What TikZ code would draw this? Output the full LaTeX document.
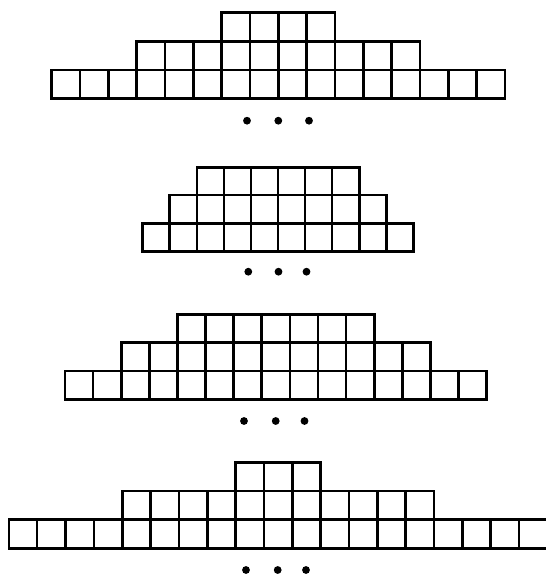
\documentclass[tikz,border=0pt]{standalone}
\newcommand\cellrow[6]{% origin, offset (cells), top, bottom, count, width
  \foreach \i in {1,...,#5}{%
    \draw[cellbox] ({#1+(#2+\i-1)*#6},#3) rectangle ({#1+(#2+\i)*#6},#4);
  }%
}
\newcommand\threedots[4]{% x1, x2, x3, y
  \fill[dotmark] (#1,#4) circle (3.9pt);
  \fill[dotmark] (#2,#4) circle (3.9pt);
  \fill[dotmark] (#3,#4) circle (3.9pt);
}
\begin{document}
\begin{tikzpicture}[x=1pt,y=-1pt,
  cellbox/.style={draw=black, line width=2.6pt},
  dotmark/.style={black}]
\useasboundingbox (0,0) rectangle (546,576);
\clip (0,0) rectangle (546,576);
% group 1
\cellrow{51.7}{6}{12.7}{41.7}{4}{28.33}
\cellrow{51.7}{3}{41.7}{70}{10}{28.33}
\cellrow{51.7}{0}{70}{98.3}{16}{28.33}
\threedots{247}{278.3}{309}{120.7}
% group 2
\cellrow{142.7}{2}{167.3}{195}{6}{27.07}
\cellrow{142.7}{1}{195}{223.3}{8}{27.07}
\cellrow{142.7}{0}{223.3}{251.7}{10}{27.07}
\threedots{248.3}{278.5}{306.5}{271.7}
% group 3
\cellrow{65}{4}{314.3}{342.7}{7}{28.11}
\cellrow{65}{2}{342.7}{371}{11}{28.11}
\cellrow{65}{0}{371}{399.3}{15}{28.11}
\threedots{244}{275.7}{304.5}{421}
% group 4
\cellrow{8.8}{8}{462.3}{491}{3}{28.35}
\cellrow{8.8}{4}{491}{519.3}{11}{28.35}
\cellrow{8.8}{0}{519.3}{548.3}{19}{28.35}
\threedots{246}{277.7}{306}{570}
\end{tikzpicture}
\end{document}
